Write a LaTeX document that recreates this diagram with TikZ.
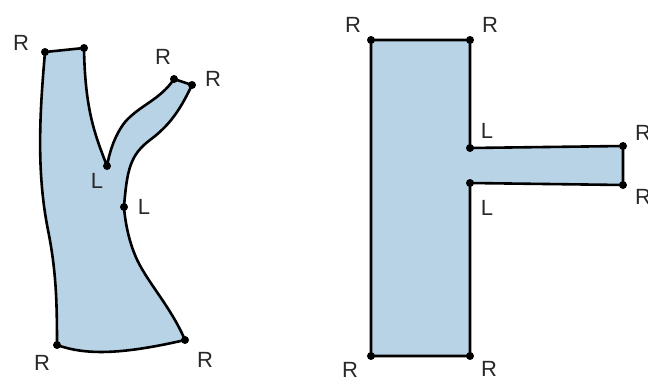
\documentclass[tikz,border=0pt]{standalone}
\usepackage{fontspec}
\setmainfont{Liberation Sans}
\definecolor{fillblue}{RGB}{184,210,230}
\definecolor{labgray}{RGB}{40,40,40}
\tikzset{
  outline/.style={draw=black, line width=2.6pt, fill=fillblue, line join=round},
  vdot/.style={circle, fill=black, inner sep=0pt, minimum size=8pt},
  lab/.style={text=labgray, inner sep=0pt, font=\fontsize{22}{22}\selectfont}
}
\begin{document}
\begin{tikzpicture}[x=1pt,y=-1pt]
\useasboundingbox (0,0) rectangle (648,383);
% left shape vertices
\coordinate (a1) at (45,52);
\coordinate (a2) at (84,48);
\coordinate (aL1) at (107,166);
\coordinate (aR1) at (174,79);
\coordinate (aR2) at (192,85);
\coordinate (aL2) at (124,207);
\coordinate (aBR) at (185,340);
\coordinate (aBL) at (57,345);
\path[outline] (a1) -- (a2)
  .. controls (85,110) and (95,135) .. (aL1)
  .. controls (110,150) and (115,135) .. (125,122)
  .. controls (140,105) and (160,100) .. (aR1)
  -- (aR2)
  .. controls (180,110) and (170,125) .. (150,140)
  .. controls (130,155) and (127,170) .. (aL2)
  .. controls (125,220) and (128,238) .. (135,255)
  .. controls (145,280) and (170,305) .. (aBR)
  .. controls (120,355) and (85,355) .. (aBL)
  .. controls (57,300) and (56,270) .. (48,230)
  .. controls (36,170) and (40,110) .. (a1) -- cycle;
\foreach \p in {a1,a2,aL1,aR1,aR2,aL2,aBR,aBL} \node[vdot] at (\p) {};
\node[lab] (la1) at (21,43) {R};
\node[lab] (la2) at (163,57) {R};
\node[lab] (la3) at (213,79) {R};
\node[lab] (la4) at (97,181) {L};
\node[lab] (la5) at (144,207) {L};
\node[lab] (la6) at (42,363) {R};
\node[lab] (la7) at (205,360) {R};
% right shape vertices
\coordinate (b1) at (371,40);
\coordinate (b2) at (470,40);
\coordinate (bL1) at (470,148);
\coordinate (bR1) at (623,146);
\coordinate (bR2) at (623,185);
\coordinate (bL2) at (470,183);
\coordinate (b3) at (470,356);
\coordinate (b4) at (371,356);
\path[outline] (b1) -- (b2) -- (bL1) -- (bR1) -- (bR2) -- (bL2) -- (b3) -- (b4) -- cycle;
\foreach \p in {b1,b2,bL1,bR1,bR2,bL2,b3,b4} \node[vdot] at (\p) {};
\node[lab] (lb1) at (353,25) {R};
\node[lab] (lb2) at (490,25) {R};
\node[lab] (lb3) at (487,131) {L};
\node[lab] (lb4) at (643,133) {R};
\node[lab] (lb5) at (643,197) {R};
\node[lab] (lb6) at (487,208) {L};
\node[lab] (lb7) at (350,370) {R};
\node[lab] (lb8) at (489,369) {R};
\end{tikzpicture}
\end{document}
